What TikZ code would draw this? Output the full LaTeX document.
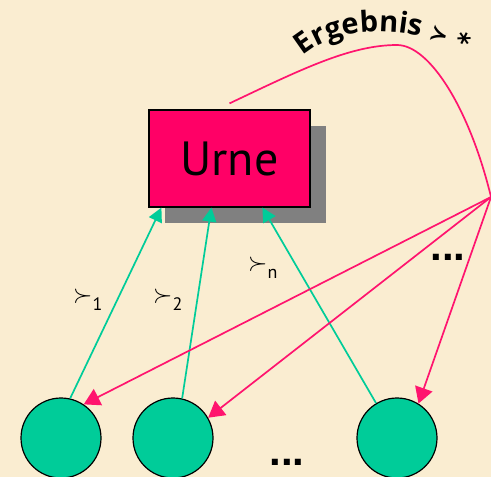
\documentclass[tikz,border=0pt]{standalone}
\usepackage{fontspec}
\setmainfont{PT Sans}
\newfontfamily\dotsfont{Liberation Sans}
\newfontfamily\symfont{DejaVu Sans}
\newfontfamily\ergfont{Open Sans}
\usetikzlibrary{arrows.meta,shadows,decorations.text,calc}
\definecolor{bg}{RGB}{250,237,209}
\definecolor{urnered}{RGB}{255,0,102}
\definecolor{pinkline}{RGB}{255,20,110}
\definecolor{mint}{RGB}{0,204,153}
\definecolor{shadowgray}{RGB}{128,128,128}
\tikzset{
  urnebox/.style={draw=black, line width=1.2pt, fill=urnered, minimum width=161pt, minimum height=97pt,
    inner sep=0pt, font=\fontsize{48}{48}\selectfont,
    drop shadow={shadow xshift=16pt, shadow yshift=-16pt, fill=shadowgray, opacity=1}},
  ball/.style={circle, draw=black, line width=1.2pt, fill=mint, minimum size=80pt, inner sep=0pt},
  greenarrow/.style={draw=mint, line width=1.7pt, -{Triangle[length=14pt,width=14pt]}},
  pinkarrow/.style={draw=pinkline, line width=1.7pt, -{Triangle[length=16pt,width=18pt]}},
  pinkcurve/.style={draw=pinkline, line width=1.7pt},
  rellabel/.style={inner sep=0pt, anchor=base west},
  dotslabel/.style={inner sep=0pt, anchor=base, font=\dotsfont\bfseries\fontsize{42}{42}\selectfont}
}
\newcommand{\relsym}{{\fontsize{28}{28}\selectfont$\succ$}}
\newcommand{\relsub}[1]{\raisebox{-8pt}{\fontsize{18}{18}\selectfont #1}}
\begin{document}
\begin{tikzpicture}[x=1pt,y=-1pt]
\useasboundingbox (0,0) rectangle (491,477);
\fill[bg] (0,0) rectangle (491,477);

\node[urnebox] (urne) at (229.5,158.5) {Urne};

\node[ball] (c1) at (61,438) {};
\node[ball] (c2) at (173,438) {};
\node[ball] (c3) at (397,438) {};

\node[dotslabel] (dotsb) at (287,465) {...};
\node[dotslabel] (dotsr) at (448,260) {...};

\coordinate (src) at (491,197);

\draw[greenarrow] (c1.77) -- ([xshift=13pt]urne.south west);
\draw[greenarrow] (c2.77) -- ([xshift=63pt]urne.south west);
\draw[greenarrow] (c3.121) -- ([xshift=114pt]urne.south west);

\draw[pinkarrow] (src) -- (c1.56);
\draw[pinkarrow] (src) -- (c2.30);
\draw[pinkarrow] (src) -- (c3.58);

\coordinate (peak) at (397,45);
\draw[pinkcurve] ([yshift=6pt]urne.north) .. controls (300,70) and (350,45) .. (peak)
  .. controls (430,45) and (470,110) .. (src);

\node[rellabel] (r1) at (73,302) {\relsym\relsub{1}};
\node[rellabel] (r2) at (153,302) {\relsym\relsub{2}};
\node[rellabel] (rn) at (248,270) {\relsym\relsub{n}};

\path[decorate, decoration={text along path, text align=left,
  text={|\ergfont\bfseries\fontsize{29}{29}\selectfont|Ergebnis {\symfont\bfseries\fontsize{22}{22}\selectfont ≻} {\symfont\bfseries\fontsize{26}{26}\selectfont *}}}]
  (303,56) .. controls (342,22) and (428,20) .. (492,72);
\end{tikzpicture}
\end{document}
